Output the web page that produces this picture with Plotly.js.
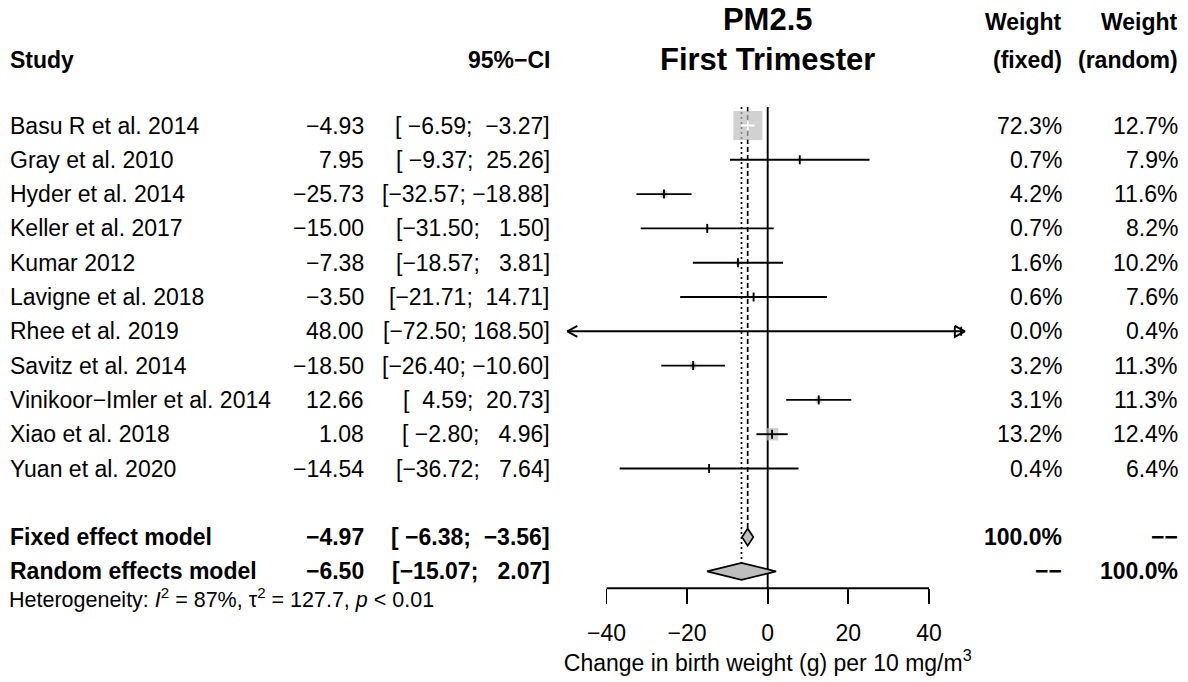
<!DOCTYPE html>
<html><head><meta charset="utf-8">
<script src="https://cdn.plot.ly/plotly-3.0.1.min.js"></script>
<style>html,body{margin:0;padding:0;background:#fff}</style>
</head><body><div id="chart" style="width:1188px;height:682px"></div>
<script>
// ---------------- data ----------------
const studies = ["Basu R et al. 2014","Gray et al. 2010","Hyder et al. 2014","Keller et al. 2017","Kumar 2012","Lavigne et al. 2018","Rhee et al. 2019","Savitz et al. 2014","Vinikoor\u2212Imler et al. 2014","Xiao et al. 2018","Yuan et al. 2020"];
const estimates = [-4.93, 7.95, -25.73, -15.00, -7.38, -3.50, 48.00, -18.50, 12.66, 1.08, -14.54];
const lowerCI   = [-6.59, -9.37, -32.57, -31.50, -18.57, -21.71, -72.50, -26.40, 4.59, -2.80, -36.72];
const upperCI   = [-3.27, 25.26, -18.88, 1.50, 3.81, 14.71, 168.50, -10.60, 20.73, 4.96, 7.64];
const weightFixed  = [72.3, 0.7, 4.2, 0.7, 1.6, 0.6, 0.0, 3.2, 3.1, 13.2, 0.4];
const weightRandom = [12.7, 7.9, 11.6, 8.2, 10.2, 7.6, 0.4, 11.3, 11.3, 12.4, 6.4];
const modelNames  = ["Fixed effect model", "Random effects model"];
const modelEst    = [-4.97, -6.50];
const modelLower  = [-6.38, -15.07];
const modelUpper  = [-3.56, 2.07];
const modelWeightFixed  = ["100.0%", "\u2212\u2212"];
const modelWeightRandom = ["\u2212\u2212", "100.0%"];
const hetI2 = "87%";
const hetTau2 = "127.7";
const hetP = "&lt; 0.01";
const xTicks = [-40, -20, 0, 20, 40];
const titleLines = ["PM2.5", "First Trimester"];
const xTitle = "Change in birth weight (g) per 10 mg/m<sup>3</sup>";

// ---------------- layout constants ----------------
const W = 1188, H = 682;
const PX_ZERO = 767.7, PX_PER_UNIT = 4.031;
const ROW0_PX = 125.5, ROW_PX = 34.3;
const AXIS_PX = 588.3, REFTOP_PX = 107;
const DOMAIN_LEFT_PX = 2 * PX_ZERO - W;   // x-domain centred on 0 so the axis title centres there
const PLOT_LIM = [-49.7, 48.9];
const FONT = "Liberation Sans, Arial, Helvetica, sans-serif";
const FS = 23, FS_HET = 21.5, FS_TITLE = 31;
const GREY = "#BEBEBE";
const MAX_BOX = 29;
const LW = 1.9;
const NB = "\u00A0";

const rowOf = py => (py - ROW0_PX) / ROW_PX;
const unitsOfPx = p => p / PX_PER_UNIT;
const rowsOfPx = p => p / ROW_PX;
const xRange = [(DOMAIN_LEFT_PX - PX_ZERO) / PX_PER_UNIT, (W - PX_ZERO) / PX_PER_UNIT];
const yRange = [rowOf(H), rowOf(0)];

const studyRows = studies.map((_, i) => i);
const modelRows = [studies.length + 1, studies.length + 2];
const axisRow = rowOf(AXIS_PX);
const refTop = rowOf(REFTOP_PX);
const diaHalf = rowsOfPx(8.5);
const tickHalf = rowsOfPx(4.5);

const maxW = Math.max(...weightFixed);
const boxSize = weightFixed.map(w => MAX_BOX * Math.sqrt(w / maxW));

const traces = [];
// reference lines
traces.push({x:[0,0], y:[refTop, axisRow], mode:'lines', line:{color:'#000', width:LW}, hoverinfo:'skip'});
traces.push({x:[modelEst[0],modelEst[0]], y:[refTop, modelRows[0]-diaHalf], mode:'lines', line:{color:'#000', width:1.7, dash:'5px,3px'}, hoverinfo:'skip'});
traces.push({x:[modelEst[1],modelEst[1]], y:[refTop, modelRows[1]-diaHalf], mode:'lines', line:{color:'#000', width:1.7, dash:'2px,3px'}, hoverinfo:'skip'});

// boxes
traces.push({x:estimates, y:studyRows, mode:'markers', marker:{symbol:'square', size:boxSize, color:GREY, line:{width:0}}, hoverinfo:'skip'});

// CI lines + estimate ticks
const blk = {x:[], y:[]}, wht = {x:[], y:[]}, arrows = {x:[], y:[]};
estimates.forEach((e, i) => {
  const r = studyRows[i];
  const lo = Math.max(lowerCI[i], PLOT_LIM[0]);
  const hi = Math.min(upperCI[i], PLOT_LIM[1]);
  const half = unitsOfPx(boxSize[i] / 2);
  const inside = lowerCI[i] >= e - half && upperCI[i] <= e + half;
  const t = inside ? wht : blk;
  t.x.push(lo, hi, null); t.y.push(r, r, null);
  t.x.push(e, e, null); t.y.push(r - tickHalf, r + tickHalf, null);
  const ax = unitsOfPx(10), ay = rowsOfPx(5.5);
  if (lowerCI[i] < PLOT_LIM[0]) { arrows.x.push(lo+ax, lo, lo+ax, null); arrows.y.push(r-ay, r, r+ay, null); }
  if (upperCI[i] > PLOT_LIM[1]) { arrows.x.push(hi-ax, hi, hi-ax, hi-ax, null); arrows.y.push(r-ay, r, r+ay, r-ay, null); }
});
traces.push({x:blk.x, y:blk.y, mode:'lines', line:{color:'#000', width:LW}, hoverinfo:'skip'});
traces.push({x:wht.x, y:wht.y, mode:'lines', line:{color:'#fff', width:LW}, hoverinfo:'skip'});
traces.push({x:arrows.x, y:arrows.y, mode:'lines', line:{color:'#000', width:LW}, hoverinfo:'skip'});

// diamonds
modelEst.forEach((e, j) => {
  const r = modelRows[j];
  traces.push({x:[modelLower[j], e, modelUpper[j], e, modelLower[j]], y:[r, r-diaHalf, r, r+diaHalf, r],
    mode:'lines', fill:'toself', fillcolor:GREY, line:{color:'#000', width:1.7}, hoverinfo:'skip'});
});

// ---------------- text ----------------
const fmt = v => (v < 0 ? "\u2212" : "") + Math.abs(v).toFixed(2);
const pad = (s, n) => NB.repeat(Math.max(0, n - s.length)) + s;
const ciText = (lo, hi) => "[" + pad(fmt(lo), 6) + ";" + NB + pad(fmt(hi), 6) + "]";
const COL = {label:10, est:364, ci:550, wf:1062, wr:1178};
const ann = [];
function addText(text, px, row, anchor, bold, size) {
  ann.push({xref:'paper', x:px / W, yref:'y', y:row, xanchor:anchor, yanchor:'middle',
    text: bold ? "<b>" + text + "</b>" : text, showarrow:false, borderpad:0, borderwidth:0,
    font:{family:FONT, size:size || FS, color:'#000'}});
}
const head1 = rowOf(22), head2 = rowOf(60);
addText("Weight", COL.wf, head1, 'right', true);
addText("Weight", COL.wr, head1, 'right', true);
addText("Study", COL.label, head2, 'left', true);
addText("95%\u2212CI", COL.ci, head2, 'right', true);
addText("(fixed)", COL.wf, head2, 'right', true);
addText("(random)", COL.wr, head2, 'right', true);
studies.forEach((s, i) => {
  const r = studyRows[i];
  addText(s, COL.label, r, 'left', false);
  addText(fmt(estimates[i]), COL.est, r, 'right', false);
  addText(ciText(lowerCI[i], upperCI[i]), COL.ci, r, 'right', false);
  addText(weightFixed[i].toFixed(1) + "%", COL.wf, r, 'right', false);
  addText(weightRandom[i].toFixed(1) + "%", COL.wr, r, 'right', false);
});
modelNames.forEach((s, j) => {
  const r = modelRows[j];
  addText(s, COL.label, r, 'left', true);
  addText(fmt(modelEst[j]), COL.est, r, 'right', true);
  addText(ciText(modelLower[j], modelUpper[j]), COL.ci, r, 'right', true);
  addText(modelWeightFixed[j], COL.wf, r, 'right', true);
  addText(modelWeightRandom[j], COL.wr, r, 'right', true);
});
addText("Heterogeneity: <i>I</i><sup>2</sup> = " + hetI2 + ", \u03C4<sup>2</sup> = " + hetTau2 + ", <i>p</i> " + hetP,
  COL.label - 1, rowOf(598), 'left', false, FS_HET);

const layout = {
  width: W, height: H, autosize: false,
  margin: {l:0, r:0, t:0, b:0, pad:0},
  paper_bgcolor: '#fff', plot_bgcolor: '#fff', showlegend: false,
  title: {text: "<b>" + titleLines.join("<br>") + "</b>", font:{family:FONT, size:FS_TITLE, color:'#000'},
    x: PX_ZERO / W, xanchor:'center', xref:'paper', y: 1 - 30 / H, yanchor:'top', yref:'container'},
  xaxis: {domain:[DOMAIN_LEFT_PX / W, 1], range:xRange, anchor:'free', position: 1 - AXIS_PX / H,
    showgrid:false, zeroline:false, showline:false,
    tickmode:'array', tickvals:xTicks, ticks:'outside', ticklen:15, tickwidth:LW, tickcolor:'#000',
    ticklabelstandoff:9,
    tickfont:{family:FONT, size:FS, color:'#000'},
    title:{text:xTitle, font:{family:FONT, size:FS, color:'#000'}, standoff:7}},
  yaxis: {domain:[0,1], range:yRange, showgrid:false, zeroline:false, showline:false,
    showticklabels:false, ticks:''},
  shapes: [{type:'line', xref:'x', yref:'y', x0:xTicks[0], x1:xTicks[xTicks.length-1], y0:axisRow, y1:axisRow,
    line:{color:'#000', width:LW}}],
  annotations: ann
};
Plotly.newPlot('chart', traces, layout, {staticPlot:true, displayModeBar:false});
</script>
</body></html>
